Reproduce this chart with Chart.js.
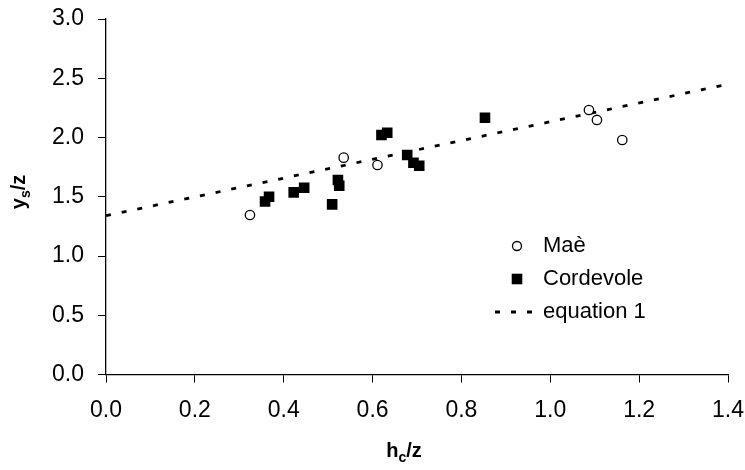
<!DOCTYPE html>
<html>
<head>
<meta charset="utf-8">
<script src="https://cdn.jsdelivr.net/npm/chart.js@4/dist/chart.umd.min.js"></script>
<style>
  html, body { margin: 0; padding: 0; background: #ffffff; }
  #wrap { width: 745px; height: 470px; }
</style>
</head>
<body>
<div id="wrap"><canvas id="scourChart" width="745" height="470"></canvas></div>
<script>
// Maè (open circles)
const maeX = [0.324, 0.535, 0.611, 1.087, 1.105, 1.162];
const maeY = [1.346, 1.83, 1.768, 2.232, 2.148, 1.979];

// Cordevole (filled squares)
const cordX = [0.358, 0.367, 0.4225, 0.446, 0.509, 0.522, 0.525, 0.620, 0.633, 0.678, 0.692, 0.705, 0.853];
const cordY = [1.46, 1.50, 1.537, 1.576, 1.436, 1.641, 1.593, 2.021, 2.04, 1.852, 1.787, 1.762, 2.167];

// equation 1 (dashed line end points)
const eqX = [0, 1.4];
const eqY = [1.34, 2.45];

const xTicks = [0, 0.2, 0.4, 0.6, 0.8, 1.0, 1.2, 1.4];
const yTicks = [0, 0.5, 1.0, 1.5, 2.0, 2.5, 3.0];

const FONT = '"Liberation Sans", Arial, sans-serif';

function toPoints(xs, ys) {
  return xs.map((x, i) => ({ x, y: ys[i] }));
}

function drawSubText(ctx, parts, x, y, size) {
  // parts: [[text, isSub], ...], centred on x
  const subSize = Math.round(size * 0.7);
  let total = 0;
  for (const [text, sub] of parts) {
    ctx.font = `bold ${sub ? subSize : size}px ${FONT}`;
    total += ctx.measureText(text).width;
  }
  let cx = x - total / 2;
  for (const [text, sub] of parts) {
    ctx.font = `bold ${sub ? subSize : size}px ${FONT}`;
    ctx.fillText(text, cx, sub ? y + size * 0.25 : y);
    cx += ctx.measureText(text).width;
  }
}

const extrasPlugin = {
  id: 'extras',
  afterDraw(chart) {
    const { ctx } = chart;
    ctx.save();
    ctx.fillStyle = '#000';
    ctx.textAlign = 'left';
    ctx.textBaseline = 'alphabetic';

    // x axis title
    drawSubText(ctx, [['h', false], ['c', true], ['/z', false]], 404, 457, 20);

    // y axis title (rotated)
    ctx.save();
    ctx.translate(25, 192);
    ctx.rotate(-Math.PI / 2);
    drawSubText(ctx, [['y', false], ['s', true], ['/z', false]], 0, 0, 20);
    ctx.restore();

    // legend
    const lx = 517;
    const tx = 543;
    const rows = [246, 279, 312];
    ctx.font = `22px ${FONT}`;
    ctx.textBaseline = 'middle';

    ctx.beginPath();
    ctx.arc(lx, rows[0], 4.5, 0, Math.PI * 2);
    ctx.fillStyle = '#fff';
    ctx.fill();
    ctx.lineWidth = 1.3;
    ctx.strokeStyle = '#000';
    ctx.stroke();
    ctx.fillStyle = '#000';
    ctx.fillText('Maè', tx, rows[0]);

    ctx.fillRect(lx - 5.3, rows[1] - 5.3, 10.6, 10.6);
    ctx.fillText('Cordevole', tx, rows[1]);

    ctx.beginPath();
    ctx.setLineDash([5, 11]);
    ctx.lineWidth = 2.8;
    ctx.moveTo(495, rows[2]);
    ctx.lineTo(534, rows[2]);
    ctx.stroke();
    ctx.setLineDash([]);
    ctx.fillText('equation 1', tx, rows[2]);

    ctx.restore();
  },
};

const chart = new Chart(document.getElementById('scourChart'), {
  type: 'scatter',
  data: {
    datasets: [
      {
        label: 'equation 1',
        type: 'line',
        data: toPoints(eqX, eqY),
        borderColor: '#000',
        borderWidth: 2.8,
        borderDash: [5, 11],
        pointRadius: 0,
        fill: false,
        order: 3,
      },
      {
        label: 'Cordevole',
        data: toPoints(cordX, cordY),
        pointStyle: 'rect',
        pointRadius: 7.5,
        backgroundColor: '#000',
        borderColor: '#000',
        borderWidth: 0,
        order: 2,
      },
      {
        label: 'Maè',
        data: toPoints(maeX, maeY),
        pointStyle: 'circle',
        pointRadius: 4.7,
        backgroundColor: '#fff',
        borderColor: '#000',
        borderWidth: 1.3,
        order: 1,
      },
    ],
  },
  options: {
    responsive: false,
    animation: false,
    events: [],
    layout: { padding: { top: 19, right: 17, left: 0, bottom: 0 } },
    plugins: {
      legend: { display: false },
      tooltip: { enabled: false },
    },
    scales: {
      x: {
        type: 'linear',
        min: 0,
        max: 1.4,
        afterBuildTicks: (scale) => { scale.ticks = xTicks.map((v) => ({ value: v })); },
        afterFit: (scale) => {
          scale.height = 95.5;
          scale.paddingLeft = 0;
          scale.paddingRight = 0;
        },
        ticks: {
          color: '#000',
          font: { family: FONT, size: 23 },
          padding: 14,
          maxRotation: 0,
          callback: (v) => v.toFixed(1),
        },
        grid: { drawOnChartArea: false, tickLength: 8, color: '#000', lineWidth: 1 },
        border: { color: '#000', width: 1.3 },
      },
      y: {
        type: 'linear',
        min: 0,
        max: 3,
        afterBuildTicks: (scale) => { scale.ticks = yTicks.map((v) => ({ value: v })); },
        afterFit: (scale) => {
          scale.width = 106;
          scale.paddingTop = 0;
          scale.paddingBottom = 0;
        },
        ticks: {
          color: '#000',
          font: { family: FONT, size: 23 },
          padding: 14,
          callback: (v) => v.toFixed(1),
        },
        grid: { drawOnChartArea: false, tickLength: 8, color: '#000', lineWidth: 1 },
        border: { color: '#000', width: 1.3 },
      },
    },
  },
  plugins: [extrasPlugin],
});
</script>
</body>
</html>
